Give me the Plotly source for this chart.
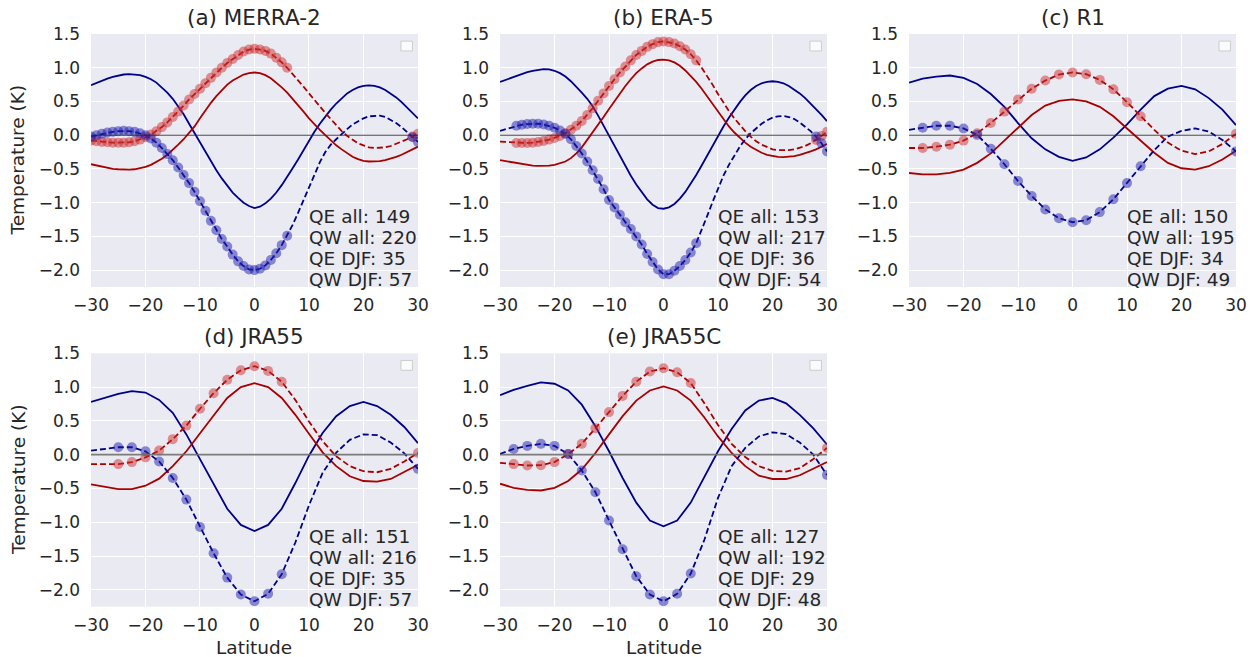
import plotly.graph_objects as go

# ---------------- data ----------------
LAT_FINE = [-30, -29, -28, -27, -26, -25, -24, -23, -22, -21,
            -20, -19, -18, -17, -16, -15, -14, -13, -12, -11,
            -10, -9, -8, -7, -6, -5, -4, -3, -2, -1,
            0, 1, 2, 3, 4, 5, 6, 7, 8, 9,
            10, 11, 12, 13, 14, 15, 16, 17, 18, 19,
            20, 21, 22, 23, 24, 25, 26, 27, 28, 29, 30]
LAT_COARSE = [-30, -27.5, -25, -22.5, -20, -17.5, -15, -12.5, -10, -7.5, -5, -2.5,
              0, 2.5, 5, 7.5, 10, 12.5, 15, 17.5, 20, 22.5, 25, 27.5, 30]

# (a) MERRA-2
qw_all_a = [0.74, 0.775, 0.81, 0.84, 0.865, 0.885, 0.90, 0.905, 0.90, 0.89,
            0.865, 0.83, 0.78, 0.71, 0.63, 0.54, 0.43, 0.31, 0.17, 0.03,
            -0.11, -0.25, -0.39, -0.52, -0.64, -0.75, -0.85, -0.93, -1.00, -1.05,
            -1.08, -1.06, -1.01, -0.94, -0.85, -0.74, -0.62, -0.49, -0.36, -0.22,
            -0.08, 0.05, 0.17, 0.28, 0.38, 0.47, 0.55, 0.62, 0.67, 0.71,
            0.73, 0.74, 0.73, 0.71, 0.67, 0.62, 0.56, 0.49, 0.41, 0.33, 0.25]
qe_all_a = [-0.43, -0.45, -0.47, -0.485, -0.50, -0.505, -0.51, -0.51, -0.505, -0.49,
            -0.47, -0.44, -0.40, -0.35, -0.29, -0.22, -0.14, -0.06, 0.03, 0.13,
            0.25, 0.37, 0.48, 0.58, 0.67, 0.75, 0.81, 0.86, 0.90, 0.92,
            0.93, 0.92, 0.89, 0.845, 0.78, 0.71, 0.63, 0.54, 0.45, 0.35,
            0.25, 0.16, 0.08, 0.0, -0.08, -0.15, -0.21, -0.27, -0.32, -0.355,
            -0.38, -0.39, -0.39, -0.385, -0.37, -0.35, -0.32, -0.29, -0.25, -0.21, -0.17]
qe_djf_a = [-0.08, -0.09, -0.10, -0.105, -0.11, -0.11, -0.11, -0.105, -0.09, -0.065,
            -0.03, 0.01, 0.06, 0.12, 0.19, 0.27, 0.35, 0.44, 0.53, 0.61,
            0.69, 0.77, 0.85, 0.93, 1.00, 1.07, 1.13, 1.19, 1.24, 1.27,
            1.28, 1.27, 1.25, 1.21, 1.15, 1.08, 1.00, 0.91, 0.82, 0.72,
            0.62, 0.52, 0.42, 0.33, 0.24, 0.15, 0.06, -0.01, -0.07, -0.12,
            -0.15, -0.18, -0.19, -0.19, -0.18, -0.16, -0.13, -0.10, -0.06, -0.02, 0.02]
qw_djf_a = [-0.02, 0.0, 0.02, 0.04, 0.05, 0.06, 0.065, 0.06, 0.05, 0.03,
            0.0, -0.05, -0.11, -0.19, -0.28, -0.37, -0.48, -0.59, -0.71, -0.84,
            -0.98, -1.12, -1.27, -1.41, -1.54, -1.65, -1.77, -1.87, -1.94, -1.99,
            -2.00, -1.98, -1.93, -1.85, -1.75, -1.63, -1.49, -1.33, -1.15, -0.96,
            -0.77, -0.58, -0.40, -0.25, -0.14, -0.06, 0.02, 0.09, 0.16, 0.21,
            0.25, 0.28, 0.29, 0.29, 0.27, 0.23, 0.18, 0.12, 0.05, -0.03, -0.10]
sig_a = [-30, -29, -28, -27, -26, -25, -24, -23, -22, -21, -20, -19, -18, -17, -16,
         -15, -14, -13, -12, -11, -10, -9, -8, -7, -6, -5, -4, -3, -2, -1,
         0, 1, 2, 3, 4, 5, 6, 29, 30]

# (b) ERA-5
qw_all_b = [0.79, 0.82, 0.85, 0.88, 0.91, 0.935, 0.955, 0.97, 0.98, 0.975,
            0.955, 0.92, 0.87, 0.80, 0.72, 0.63, 0.54, 0.43, 0.29, 0.14,
            -0.01, -0.16, -0.31, -0.46, -0.60, -0.73, -0.85, -0.95, -1.03, -1.08,
            -1.09, -1.07, -1.02, -0.94, -0.84, -0.72, -0.59, -0.45, -0.30, -0.15,
            -0.01, 0.13, 0.26, 0.38, 0.49, 0.59, 0.67, 0.73, 0.77, 0.79,
            0.80, 0.79, 0.77, 0.73, 0.68, 0.62, 0.55, 0.47, 0.39, 0.30, 0.21]
qe_all_b = [-0.37, -0.385, -0.40, -0.415, -0.43, -0.44, -0.45, -0.455, -0.455, -0.45,
            -0.44, -0.42, -0.39, -0.34, -0.27, -0.18, -0.07, 0.04, 0.15, 0.27,
            0.39, 0.51, 0.62, 0.73, 0.83, 0.92, 0.99, 1.05, 1.09, 1.115,
            1.12, 1.11, 1.08, 1.03, 0.96, 0.88, 0.79, 0.69, 0.58, 0.46,
            0.35, 0.24, 0.13, 0.04, -0.04, -0.11, -0.17, -0.22, -0.26, -0.29,
            -0.31, -0.32, -0.325, -0.32, -0.31, -0.29, -0.27, -0.24, -0.21, -0.17, -0.13]
qe_djf_b = [-0.095, -0.10, -0.11, -0.115, -0.115, -0.115, -0.11, -0.10, -0.085, -0.065,
            -0.04, -0.01, 0.03, 0.08, 0.14, 0.21, 0.30, 0.40, 0.51, 0.62,
            0.73, 0.83, 0.93, 1.02, 1.11, 1.19, 1.25, 1.31, 1.35, 1.38,
            1.39, 1.38, 1.36, 1.32, 1.27, 1.20, 1.11, 1.00, 0.88, 0.75,
            0.61, 0.48, 0.36, 0.25, 0.15, 0.06, -0.02, -0.09, -0.14, -0.18,
            -0.21, -0.22, -0.225, -0.22, -0.21, -0.19, -0.16, -0.12, -0.07, -0.01, 0.05]
qw_djf_b = [0.065, 0.09, 0.115, 0.14, 0.155, 0.165, 0.17, 0.17, 0.16, 0.14,
            0.11, 0.07, 0.02, -0.06, -0.16, -0.27, -0.39, -0.52, -0.65, -0.80,
            -0.96, -1.07, -1.18, -1.29, -1.39, -1.50, -1.62, -1.76, -1.88, -1.99,
            -2.06, -2.06, -2.01, -1.94, -1.85, -1.74, -1.60, -1.41, -1.20, -0.99,
            -0.78, -0.60, -0.44, -0.30, -0.17, -0.06, 0.03, 0.10, 0.17, 0.22,
            0.26, 0.28, 0.285, 0.27, 0.24, 0.19, 0.13, 0.06, -0.02, -0.12, -0.24]
sig_b = [-27, -26, -25, -24, -23, -22, -21, -20, -19, -18, -17, -16,
         -15, -14, -13, -12, -11, -10, -9, -8, -7, -6, -5, -4, -3, -2, -1,
         0, 1, 2, 3, 4, 5, 6, 28, 29, 30]

# (c) R1
qw_all_c = [0.78, 0.84, 0.87, 0.885, 0.85, 0.76, 0.61, 0.42, 0.18, -0.045, -0.21, -0.32,
            -0.38, -0.33, -0.21, -0.035, 0.16, 0.38, 0.58, 0.69, 0.73, 0.68, 0.55, 0.38, 0.15]
qe_all_c = [-0.56, -0.58, -0.58, -0.56, -0.51, -0.41, -0.27, -0.08, 0.11, 0.30, 0.44, 0.51,
            0.53, 0.50, 0.42, 0.28, 0.10, -0.08, -0.26, -0.41, -0.49, -0.51, -0.46, -0.36, -0.23]
qe_djf_c = [-0.19, -0.19, -0.17, -0.14, -0.08, 0.03, 0.18, 0.35, 0.53, 0.69, 0.81, 0.90,
            0.93, 0.905, 0.82, 0.68, 0.49, 0.28, 0.08, -0.11, -0.23, -0.28, -0.24, -0.13, 0.02]
qw_djf_c = [0.08, 0.11, 0.14, 0.14, 0.10, 0.005, -0.20, -0.43, -0.68, -0.90, -1.10, -1.23,
            -1.29, -1.26, -1.14, -0.95, -0.71, -0.46, -0.22, -0.02, 0.065, 0.10, 0.055, -0.07, -0.24]
sig_c = [-27.5, -25, -22.5, -20, -17.5, -15, -12.5, -10, -7.5, -5, -2.5,
         0, 2.5, 5, 7.5, 10, 12.5, 30]

# (d) JRA55
qw_all_d = [0.78, 0.84, 0.90, 0.94, 0.92, 0.81, 0.62, 0.30, -0.07, -0.44, -0.80, -1.04,
            -1.13, -1.04, -0.80, -0.42, -0.015, 0.32, 0.57, 0.72, 0.78, 0.72, 0.59, 0.41, 0.17]
qe_all_d = [-0.44, -0.48, -0.51, -0.51, -0.46, -0.355, -0.17, 0.05, 0.32, 0.58, 0.84, 1.00,
            1.06, 1.00, 0.84, 0.59, 0.31, 0.035, -0.17, -0.32, -0.39, -0.40, -0.36, -0.26, -0.15]
qe_djf_d = [-0.14, -0.14, -0.14, -0.11, -0.04, 0.06, 0.23, 0.43, 0.68, 0.91, 1.11, 1.25,
            1.31, 1.24, 1.08, 0.81, 0.49, 0.20, -0.025, -0.17, -0.245, -0.26, -0.21, -0.10, 0.025]
qw_djf_d = [0.06, 0.085, 0.11, 0.11, 0.05, -0.10, -0.345, -0.665, -1.07, -1.46, -1.82, -2.07,
            -2.17, -2.06, -1.77, -1.30, -0.75, -0.27, 0.03, 0.22, 0.30, 0.29, 0.18, 0.02, -0.21]
sig_d = [-25, -22.5, -20, -17.5, -15, -12.5, -10, -7.5, -5, -2.5, 0, 2.5, 5, 30]

# (e) JRA55C
qw_all_e = [0.88, 0.96, 1.02, 1.07, 1.05, 0.95, 0.74, 0.42, 0.05, -0.345, -0.71, -0.975,
            -1.06, -0.975, -0.71, -0.335, 0.05, 0.38, 0.655, 0.80, 0.84, 0.76, 0.59, 0.39, 0.15]
qe_all_e = [-0.43, -0.49, -0.52, -0.53, -0.49, -0.39, -0.22, 0.025, 0.30, 0.57, 0.80, 0.95,
            1.01, 0.95, 0.80, 0.55, 0.27, 0.025, -0.17, -0.31, -0.36, -0.36, -0.305, -0.21, -0.11]
qe_djf_e = [-0.12, -0.14, -0.16, -0.155, -0.11, 0.01, 0.16, 0.39, 0.63, 0.87, 1.08, 1.23,
            1.28, 1.22, 1.06, 0.76, 0.44, 0.16, -0.035, -0.17, -0.24, -0.25, -0.20, -0.065, 0.10]
qw_djf_e = [0.01, 0.085, 0.13, 0.16, 0.13, 0.01, -0.235, -0.555, -0.975, -1.40, -1.80, -2.07,
            -2.17, -2.06, -1.76, -1.26, -0.64, -0.17, 0.10, 0.27, 0.33, 0.305, 0.18, 0.0, -0.30]
sig_e = [-27.5, -25, -22.5, -20, -17.5, -15, -12.5, -10, -7.5, -5, -2.5, 0, 2.5, 5, 30]

titles = ["(a) MERRA-2", "(b) ERA-5", "(c) R1", "(d) JRA55", "(e) JRA55C"]
qe_all_n = [149, 153, 150, 151, 127]
qw_all_n = [220, 217, 195, 216, 192]
qe_djf_n = [35, 36, 34, 35, 29]
qw_djf_n = [57, 54, 49, 57, 48]

x_ticks = [-30, -20, -10, 0, 10, 20, 30]
x_ticktext = ["−30", "−20", "−10", "0", "10", "20", "30"]
y_ticks = [-2.0, -1.5, -1.0, -0.5, 0.0, 0.5, 1.0, 1.5]
y_ticktext = ["−2.0", "−1.5", "−1.0", "−0.5", "0.0", "0.5", "1.0", "1.5"]

panels = [
    (LAT_FINE, qw_all_a, qe_all_a, qw_djf_a, qe_djf_a, sig_a),
    (LAT_FINE, qw_all_b, qe_all_b, qw_djf_b, qe_djf_b, sig_b),
    (LAT_COARSE, qw_all_c, qe_all_c, qw_djf_c, qe_djf_c, sig_c),
    (LAT_COARSE, qw_all_d, qe_all_d, qw_djf_d, qe_djf_d, sig_d),
    (LAT_COARSE, qw_all_e, qe_all_e, qw_djf_e, qe_djf_e, sig_e),
]

# ---------------- style ----------------
FONT = "DejaVu Sans"
TXT = "#262626"
BLUE = "#00008B"
RED = "#A80000"
BLUE_M = "rgba(30,30,175,0.5)"
RED_M = "rgba(205,45,45,0.5)"
BG = "#EAEAF2"

xdom = [[0.0724, 0.3325], [0.3978, 0.6579], [0.7232, 0.9833]]
ydom = [[0.5632, 0.9482], [0.0766, 0.4622]]
grid_pos = [(0, 0), (0, 1), (0, 2), (1, 0), (1, 1)]

fig = go.Figure()
layout = dict(
    width=1257, height=657,
    margin=dict(l=0, r=0, t=0, b=0, autoexpand=False),
    paper_bgcolor="white", plot_bgcolor=BG,
    showlegend=False,
    font=dict(family=FONT, color=TXT, size=17),
)
annotations = []
shapes = []

for i, (lat, qw_all, qe_all, qw_djf, qe_djf, sig) in enumerate(panels):
    n = i + 1
    xa = "x" if n == 1 else f"x{n}"
    ya = "y" if n == 1 else f"y{n}"
    r, c = grid_pos[i]

    fig.add_trace(go.Scatter(x=lat, y=qw_all, mode="lines",
                             line=dict(color=BLUE, width=1.8), xaxis=xa, yaxis=ya))
    fig.add_trace(go.Scatter(x=lat, y=qe_all, mode="lines",
                             line=dict(color=RED, width=1.8), xaxis=xa, yaxis=ya))
    fig.add_trace(go.Scatter(x=lat, y=qw_djf, mode="lines",
                             line=dict(color=BLUE, width=1.8, dash="6px,3px"), xaxis=xa, yaxis=ya))
    fig.add_trace(go.Scatter(x=lat, y=qe_djf, mode="lines",
                             line=dict(color=RED, width=1.8, dash="6px,3px"), xaxis=xa, yaxis=ya))
    wmap = dict(zip(lat, qw_djf))
    emap = dict(zip(lat, qe_djf))
    fig.add_trace(go.Scatter(x=sig, y=[emap[s] for s in sig], mode="markers",
                             marker=dict(color=RED_M, size=10, line=dict(width=0)),
                             xaxis=xa, yaxis=ya))
    fig.add_trace(go.Scatter(x=sig, y=[wmap[s] for s in sig], mode="markers",
                             marker=dict(color=BLUE_M, size=10, line=dict(width=0)),
                             xaxis=xa, yaxis=ya))

    layout["xaxis" if n == 1 else f"xaxis{n}"] = dict(
        domain=xdom[c], anchor=ya, range=[-30, 30], automargin=False,
        tickmode="array", tickvals=x_ticks, ticktext=x_ticktext,
        showgrid=True, gridcolor="white", gridwidth=1.3,
        zeroline=False, showline=False, ticks="",
        ticklabelstandoff=6, tickfont=dict(size=17, color=TXT, family=FONT),
    )
    layout["yaxis" if n == 1 else f"yaxis{n}"] = dict(
        domain=ydom[r], anchor=xa, range=[-2.25, 1.5], automargin=False,
        tickmode="array", tickvals=y_ticks, ticktext=y_ticktext,
        showgrid=True, gridcolor="white", gridwidth=1.3,
        zeroline=False, showline=False, ticks="",
        ticklabelstandoff=10, tickfont=dict(size=17, color=TXT, family=FONT),
    )

    # zero line (drawn above the white gridline)
    zc, zw = ("rgba(40,40,40,0.85)", 1.1) if r == 0 else ("rgba(110,110,110,0.9)", 1.8)
    shapes.append(dict(type="line", xref=f"{xa} domain", yref=ya, x0=0, x1=1, y0=0, y1=0,
                       line=dict(color=zc, width=zw), layer="above"))
    # empty legend box
    shapes.append(dict(type="rect", xref=f"{xa} domain", yref=f"{ya} domain",
                       x0=0.948, x1=0.983, y0=0.933, y1=0.972,
                       fillcolor="rgba(255,255,255,0.8)",
                       line=dict(color="#CCCCCC", width=1), layer="above"))

    # title
    xc = (xdom[c][0] + xdom[c][1]) / 2
    annotations.append(dict(text=titles[i], xref="paper", yref="paper",
                            x=xc, y=ydom[r][1] + 0.025, xanchor="center", yanchor="middle",
                            showarrow=False, font=dict(size=21.5, color=TXT, family=FONT)))
    # counts
    lines = [f"QE all: {qe_all_n[i]}", f"QW all: {qw_all_n[i]}",
             f"QE DJF: {qe_djf_n[i]}", f"QW DJF: {qw_djf_n[i]}"]
    ys = [0.277, 0.194, 0.111, 0.028]
    for t, yy in zip(lines, ys):
        annotations.append(dict(text=t, xref=f"{xa} domain", yref=f"{ya} domain",
                                x=0.66, y=yy, xanchor="left", yanchor="middle",
                                showarrow=False, font=dict(size=18.5, color=TXT, family=FONT)))
    if c == 0:
        annotations.append(dict(text="Temperature (K)", xref="paper", yref="paper",
                                x=18 / 1257, y=(ydom[r][0] + ydom[r][1]) / 2,
                                xanchor="center", yanchor="middle", textangle=-90,
                                showarrow=False, font=dict(size=18.5, color=TXT, family=FONT)))
    if r == 1:
        annotations.append(dict(text="Latitude", xref="paper", yref="paper",
                                x=xc, y=0, xanchor="center", yanchor="bottom", yshift=-3,
                                showarrow=False, font=dict(size=18.5, color=TXT, family=FONT)))

layout["annotations"] = annotations
layout["shapes"] = shapes
fig.update_layout(**layout)
fig.write_html("out.html")
